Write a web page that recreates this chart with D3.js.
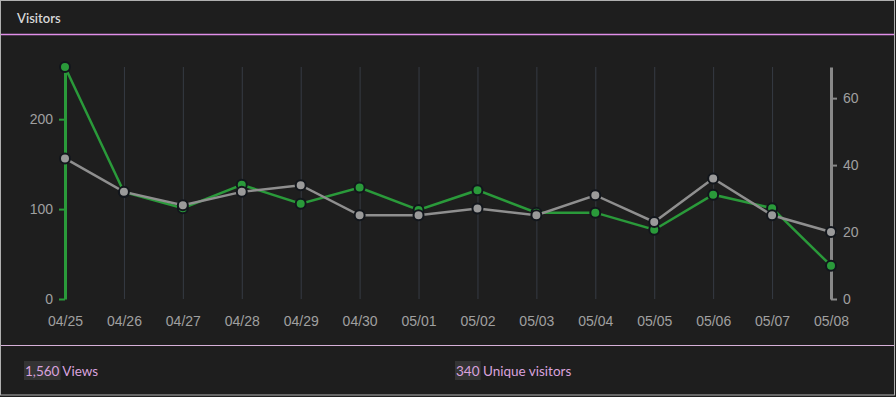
<!DOCTYPE html>
<html>
<head>
<meta charset="utf-8">
<script src="https://cdn.jsdelivr.net/npm/d3@7"></script>
<style>
  html, body { margin: 0; padding: 0; background: #1e1e1e; }
  body { width: 896px; height: 397px; overflow: hidden; }
  svg { display: block; }
</style>
</head>
<body>
<svg id="chart" width="896" height="397"></svg>
<script>
const dates = ['04/25', '04/26', '04/27', '04/28', '04/29', '04/30', '05/01', '05/02', '05/03', '05/04', '05/05', '05/06', '05/07', '05/08'];
const views = [258, 119, 101, 127, 106, 124, 99, 121, 96, 96, 77, 116, 101, 37];
const uniques = [42, 32, 28, 32, 34, 25, 25, 27, 25, 31, 23, 36, 25, 20];
const viewTicks = [0, 100, 200];
const uniqueTicks = [0, 20, 40, 60];
const totalViews = '1,560';
const totalUniques = '340';
const uniqueMax = 69.3;

const svg = d3.select('#chart');
const width = 896;
const height = 397;
const margin = { top: 67, right: 65, bottom: 98, left: 65 };

// frame
svg.append('rect')
  .attr('x', 0.5).attr('y', 0.5)
  .attr('width', width - 2).attr('height', height - 2.5)
  .attr('fill', '#1e1e1e')
  .attr('stroke', '#b0b0b0');

svg.append('text')
  .attr('x', 17).attr('y', 23)
  .attr('fill', '#d8d8d8')
  .style('font', '600 13px Lato, "Open Sans", sans-serif')
  .text('Visitors');

svg.append('line')
  .attr('x1', 1).attr('x2', width - 2)
  .attr('y1', 34.5).attr('y2', 34.5)
  .attr('stroke', '#e08ee8').attr('stroke-width', 1.5);

svg.append('line')
  .attr('x1', 1).attr('x2', width - 2)
  .attr('y1', 345.5).attr('y2', 345.5)
  .attr('stroke', '#d6b0d8').attr('stroke-width', 1);

const x = d3.scalePoint()
  .domain(dates)
  .range([margin.left, width - margin.right]);

const y = d3.scaleLinear()
  .domain([0, d3.max(views)])
  .range([height - margin.bottom, margin.top]);

const y2 = d3.scaleLinear()
  .domain([0, uniqueMax])
  .range([height - margin.bottom, margin.top]);

// grid
svg.append('g')
  .selectAll('line')
  .data(dates.slice(1, -1))
  .join('line')
  .attr('x1', (d) => x(d) + 0.5).attr('x2', (d) => x(d) + 0.5)
  .attr('y1', margin.top).attr('y2', height - margin.bottom)
  .attr('stroke', '#363b44').attr('stroke-width', 1);

// x axis labels
const xAxis = svg.append('g')
  .attr('transform', `translate(0,${height - margin.bottom})`)
  .call(d3.axisBottom(x).tickSize(0).tickPadding(17));
xAxis.select('.domain').remove();
xAxis.selectAll('text')
  .attr('fill', '#a0a0a0')
  .style('font', '14px "Liberation Sans", Arial, sans-serif');

// left axis
const yAxis = svg.append('g')
  .attr('transform', `translate(${margin.left},0)`)
  .call(d3.axisLeft(y).tickValues(viewTicks).tickSize(6).tickPadding(6).tickSizeOuter(0));
yAxis.select('.domain').attr('stroke', '#2a9a3a').attr('stroke-width', 3);
yAxis.selectAll('.tick line').attr('stroke', '#2a9a3a').attr('stroke-width', 2);
yAxis.selectAll('text')
  .attr('fill', '#a0a0a0')
  .style('font', '14px "Liberation Sans", Arial, sans-serif');

// right axis
const y2Axis = svg.append('g')
  .attr('transform', `translate(${width - margin.right},0)`)
  .call(d3.axisRight(y2).tickValues(uniqueTicks).tickSize(6).tickPadding(6).tickSizeOuter(0));
y2Axis.select('.domain').attr('stroke', '#888').attr('stroke-width', 3);
y2Axis.selectAll('.tick line').attr('stroke', '#888').attr('stroke-width', 2);
y2Axis.selectAll('text')
  .attr('fill', '#a0a0a0')
  .style('font', '14px "Liberation Sans", Arial, sans-serif');

// views first, uniques on top
const series = [
  { values: views, scale: y, line: '#2a9a3a', fill: '#2a9a3a' },
  { values: uniques, scale: y2, line: '#8f8f8f', fill: '#9a9a9a' }
];

series.forEach((s) => {
  svg.append('path')
    .datum(s.values)
    .attr('fill', 'none')
    .attr('stroke', s.line)
    .attr('stroke-width', 2.5)
    .attr('d', d3.line().x((d, i) => x(dates[i])).y((d) => s.scale(d)));

  svg.append('g')
    .selectAll('circle')
    .data(s.values)
    .join('circle')
    .attr('cx', (d, i) => x(dates[i]))
    .attr('cy', (d) => s.scale(d))
    .attr('r', 5)
    .attr('fill', s.fill)
    .attr('stroke', '#12161c')
    .attr('stroke-width', 2);
});

// footer totals
function total(xPos, num, label) {
  const g = svg.append('g').attr('transform', `translate(${xPos},376)`);
  const t = g.append('text')
    .attr('fill', '#d9a2dd')
    .style('font', '13.5px Lato, "Open Sans", sans-serif');
  t.append('tspan').attr('class', 'num').text(num);
  t.append('tspan').text(' ' + label);
  const box = t.select('.num').node().getBBox();
  g.insert('rect', 'text')
    .attr('x', box.x - 1).attr('y', -15)
    .attr('width', box.width + 2).attr('height', 19)
    .attr('fill', '#343434');
}
total(25, totalViews, 'Views');
total(456, totalUniques, 'Unique visitors');
</script>
</body>
</html>
